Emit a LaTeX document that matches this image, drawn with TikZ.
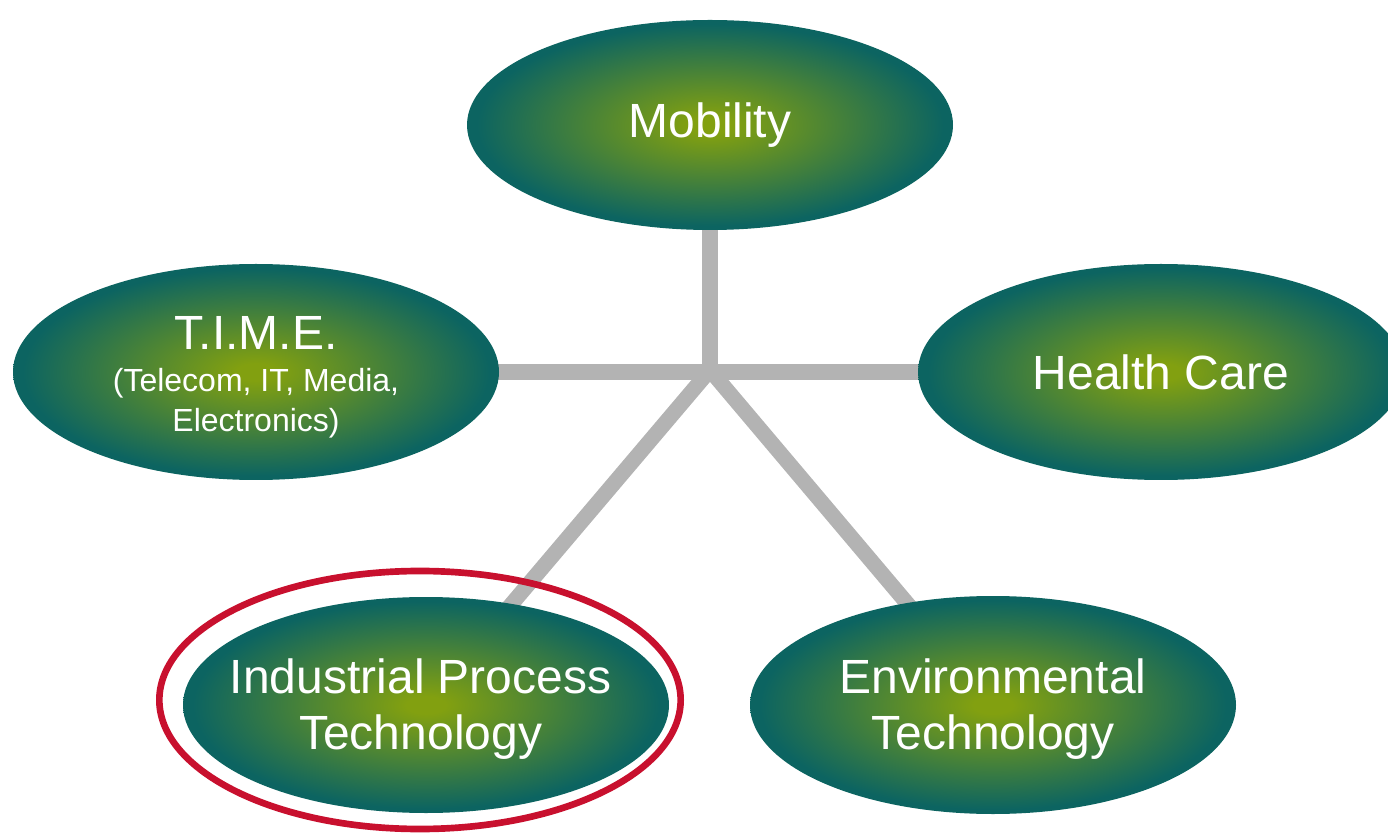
\documentclass[tikz,border=0pt]{standalone}
\usepackage{fontspec}
\setmainfont{Liberation Sans}
\usetikzlibrary{shapes.geometric,backgrounds}
\definecolor{tealc}{RGB}{12,100,97}
\definecolor{greenc}{RGB}{130,160,16}
\definecolor{ringred}{RGB}{200,16,46}
\definecolor{linegray}{RGB}{179,179,179}
\pgfdeclareradialshading{blob}{\pgfpoint{0bp}{0bp}}{%
  color(0bp)=(greenc); color(2bp)=(greenc); color(24bp)=(tealc); color(25bp)=(tealc); color(50bp)=(tealc)}
\tikzset{
  blobnode/.style={ellipse, shading=blob, draw=none, inner sep=0pt,
    minimum width=364.5pt, minimum height=162pt},
  blobtext/.style={text=white, align=center, inner sep=0pt,
    font=\fontsize{36}{42}\selectfont},
  spoke/.style={line width=11.5pt, draw=linegray, line cap=butt},
  ringstyle/.style={ellipse, draw=ringred, line width=5pt, inner sep=0pt,
    minimum width=391pt, minimum height=193.5pt}
}
\begin{document}
\begin{tikzpicture}[x=0.75pt,y=-0.75pt]
\useasboundingbox (0,0) rectangle (1388,837);
\node[ringstyle] (ring) at (420,700) {};
\node[blobnode, minimum height=157.5pt, label={[blobtext]center:{Mobility}}] (mob) at (710,125) {};
\node[blobnode, label={[blobtext, yshift=-4pt]center:{T.I.M.E.\\[-11pt]\fontsize{24}{28}\selectfont (Telecom, IT, Media,\\[-12pt]\fontsize{24}{28}\selectfont Electronics)}}] (time) at (256,372) {};
\node[blobnode, label={[blobtext]center:{Health Care}}] (health) at (1161,372) {};
\node[blobnode, label={[blobtext, yshift=-3pt, xshift=-4pt]center:{Industrial Process\\Technology}}] (ind) at (426,705) {};
\node[blobnode, minimum height=163.5pt, label={[blobtext, yshift=-3pt]center:{Environmental\\Technology}}] (env) at (993,705) {};
\coordinate (hub) at (710,370);
\begin{pgfonlayer}{background}
\draw[spoke] (hub) -- (mob.center);
\draw[spoke] (time.center) -- (health.center);
\draw[spoke] (hub) -- (ind.center);
\draw[spoke] (hub) -- (env.center);
\end{pgfonlayer}
\end{tikzpicture}
\end{document}
